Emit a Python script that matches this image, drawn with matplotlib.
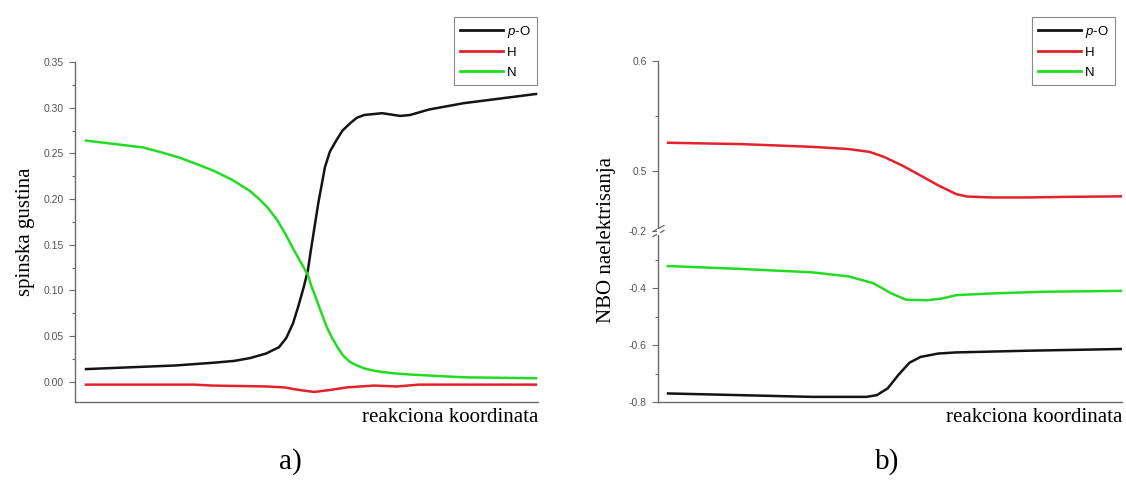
import matplotlib
matplotlib.use("Agg")
from matplotlib import pyplot as plt
from matplotlib.lines import Line2D
from matplotlib.ticker import FixedLocator, FormatStrFormatter

plt.rcParams["font.family"] = "Liberation Sans"
plt.rcParams["mathtext.fontset"] = "custom"
plt.rcParams["mathtext.it"] = "Liberation Sans:italic"
plt.rcParams["axes.unicode_minus"] = False

# panel a) spin density along the reaction coordinate
a_po_x = [0, 10, 20, 28.4, 33, 36.4, 40, 42.9, 44.5, 46, 47.2, 48.4, 49.3, 50,
          51.6, 53.1, 54.2, 55.6, 57, 58.7, 60.2, 61.8, 65.8, 69.8, 72, 76.2,
          84, 92, 100]
a_po_y = [0.014, 0.016, 0.018, 0.021, 0.023, 0.026, 0.031, 0.038, 0.048, 0.064,
          0.083, 0.104, 0.122, 0.145, 0.195, 0.235, 0.252, 0.264, 0.275, 0.283,
          0.289, 0.292, 0.294, 0.291, 0.292, 0.298, 0.305, 0.310, 0.315]
a_h_x = [0, 24, 28, 40, 44, 47.6, 50.7, 54, 58, 64, 66.5, 69, 74, 100]
a_h_y = [-0.003, -0.003, -0.004, -0.005, -0.006, -0.009, -0.011, -0.009, -0.006,
         -0.004, -0.0045, -0.005, -0.003, -0.003]
a_n_x = [0, 6, 12.7, 16.5, 20.7, 24.5, 28.4, 32.5, 36.4, 38.5, 40.4, 42.5, 44.4,
         46, 47.6, 49.3, 50, 51, 52.2, 53.5, 54.7, 56, 57.1, 58.6, 60.2, 62,
         64.2, 68, 72.2, 78, 84, 92, 100]
a_n_y = [0.264, 0.2605, 0.2565, 0.2515, 0.2455, 0.2385, 0.231, 0.221, 0.209,
         0.200, 0.1905, 0.177, 0.161, 0.146, 0.132, 0.117, 0.106, 0.093, 0.077,
         0.060, 0.048, 0.037, 0.029, 0.022, 0.018, 0.0145, 0.012, 0.0095, 0.008,
         0.0065, 0.005, 0.0045, 0.004]

# panel b) NBO charges (broken y axis)
b_po_x = [0, 15.9, 31.7, 43.7, 46.0, 48.4, 50.8, 53.2, 55.6, 59.5, 63.5, 79.4, 100]
b_po_y = [-0.770, -0.776, -0.782, -0.782, -0.776, -0.752, -0.704, -0.662, -0.642,
          -0.630, -0.626, -0.620, -0.614]
b_h_x = [0, 15.9, 31.7, 39.7, 44.4, 47.6, 51.6, 55.6, 59.5, 63.5, 65.9, 71.4,
         79.4, 87.3, 100]
b_h_y = [0.5257, 0.5245, 0.522, 0.520, 0.5174, 0.5128, 0.505, 0.496, 0.487,
         0.479, 0.4768, 0.476, 0.476, 0.4765, 0.477]
b_n_x = [0, 15.9, 31.7, 39.7, 45.2, 49.2, 52.4, 57.1, 60.3, 63.5, 71.4, 83.3, 100]
b_n_y = [-0.323, -0.333, -0.345, -0.359, -0.383, -0.419, -0.441, -0.443, -0.437,
         -0.425, -0.419, -0.413, -0.410]

labels = ["$p$-O", "H", "N"]
colors = ["#141414", "#e3222c", "#22dc22"]

W, H = 1126, 482
SPINE = "#6a6a6a"
TICKTXT = "#555555"
SERIF = "Liberation Serif"


def fx(px):
    return px / W


def fy(py):
    return 1 - py / H


def style_axis(ax, show_bottom=True, show_top=False):
    ax.spines["right"].set_visible(False)
    ax.spines["top"].set_visible(show_top)
    ax.spines["bottom"].set_visible(show_bottom)
    for s in ["left", "bottom"]:
        ax.spines[s].set_color(SPINE)
        ax.spines[s].set_linewidth(1.0)
    ax.set_xticks([])
    ax.tick_params(axis="y", which="major", direction="out", length=4.5, width=0.8,
                   color=SPINE, labelsize=7.5, labelcolor=TICKTXT, pad=3.5)
    ax.tick_params(axis="y", which="minor", direction="out", length=2, width=0.8,
                   color=SPINE)
    ax.patch.set_alpha(0)


def add_legend(handles, right_px, top_px):
    leg = fig.legend(handles, labels, loc="upper right",
                     bbox_to_anchor=(fx(right_px), fy(top_px)),
                     bbox_transform=fig.transFigure, fontsize=9.5, frameon=True,
                     fancybox=False, framealpha=1, edgecolor="#8a8a8a",
                     handlelength=3.2, handletextpad=0.3, labelspacing=0.55,
                     borderpad=0.5, borderaxespad=0)
    leg.get_frame().set_linewidth(0.8)
    for line in leg.get_lines():
        line.set_linewidth(2.0)


fig = plt.figure(figsize=(W / 100, H / 100), dpi=100)

# ---- panel a ----
ax_a = fig.add_axes([fx(75), fy(402), fx(538) - fx(75), fy(62) - fy(402)])
style_axis(ax_a)
ha = []
for xs, ys, c in [(a_po_x, a_po_y, colors[0]), (a_h_x, a_h_y, colors[1]),
                  (a_n_x, a_n_y, colors[2])]:
    ha += ax_a.plot(xs, ys, color=c, lw=1.8, solid_joinstyle="round")
ax_a.set_xlim(-2.44, 100.44)
ax_a.set_ylim(-0.022, 0.35)
ax_a.yaxis.set_major_locator(FixedLocator([0, 0.05, 0.10, 0.15, 0.20, 0.25, 0.30, 0.35]))
ax_a.yaxis.set_minor_locator(FixedLocator([0.025, 0.075, 0.125, 0.175, 0.225, 0.275, 0.325]))
ax_a.yaxis.set_major_formatter(FormatStrFormatter("%.2f"))
ax_a.set_ylabel("spinska gustina", family=SERIF, fontsize=15, labelpad=6)
ax_a.set_xlabel("reakciona koordinata", family=SERIF, fontsize=15, loc="right",
                labelpad=4)
add_legend(ha, 537, 17)
fig.text(fx(290), fy(462), "a)", family=SERIF, fontsize=21, ha="center", va="center")

# ---- panel b (two stacked axes, broken y axis) ----
left_b, right_b = fx(658), fx(1122)
ax_up = fig.add_axes([left_b, fy(231), right_b - left_b, fy(61) - fy(231)])
ax_lo = fig.add_axes([left_b, fy(402), right_b - left_b, fy(231) - fy(402)])
style_axis(ax_up, show_bottom=False)
style_axis(ax_lo)

hb = []
hb += ax_lo.plot(b_po_x, b_po_y, color=colors[0], lw=1.8, solid_joinstyle="round")
hb += ax_up.plot(b_h_x, b_h_y, color=colors[1], lw=1.8, solid_joinstyle="round")
hb += ax_lo.plot(b_n_x, b_n_y, color=colors[2], lw=1.8, solid_joinstyle="round")
for ax in (ax_up, ax_lo):
    ax.set_xlim(-2.2, 100)
ax_up.set_ylim(0.4455, 0.6)
ax_lo.set_ylim(-0.8, -0.2)
ax_up.yaxis.set_major_locator(FixedLocator([0.5, 0.6]))
ax_up.yaxis.set_minor_locator(FixedLocator([0.55]))
ax_lo.yaxis.set_major_locator(FixedLocator([-0.8, -0.6, -0.4, -0.2]))
ax_lo.yaxis.set_minor_locator(FixedLocator([-0.7, -0.5, -0.3]))
for ax in (ax_up, ax_lo):
    ax.yaxis.set_major_formatter(FormatStrFormatter("%.1f"))
ax_lo.set_xlabel("reakciona koordinata", family=SERIF, fontsize=15, loc="right",
                 labelpad=4)
fig.text(fx(607), fy(240), "NBO naelektrisanja", family=SERIF, fontsize=15,
         rotation=90, ha="center", va="center")

# axis break marks
for dy in (-2.5, 2.5):
    fig.add_artist(Line2D([fx(653), fx(664)], [fy(234 + dy), fy(228 + dy)],
                          color=SPINE, lw=0.9))
fig.add_artist(Line2D([fx(658), fx(658)], [fy(229.5), fy(232.5)], color="white", lw=2))

add_legend(hb, 1115, 17)
fig.text(fx(887), fy(462), "b)", family=SERIF, fontsize=21, ha="center", va="center")

fig.savefig("out.png", dpi=100)
